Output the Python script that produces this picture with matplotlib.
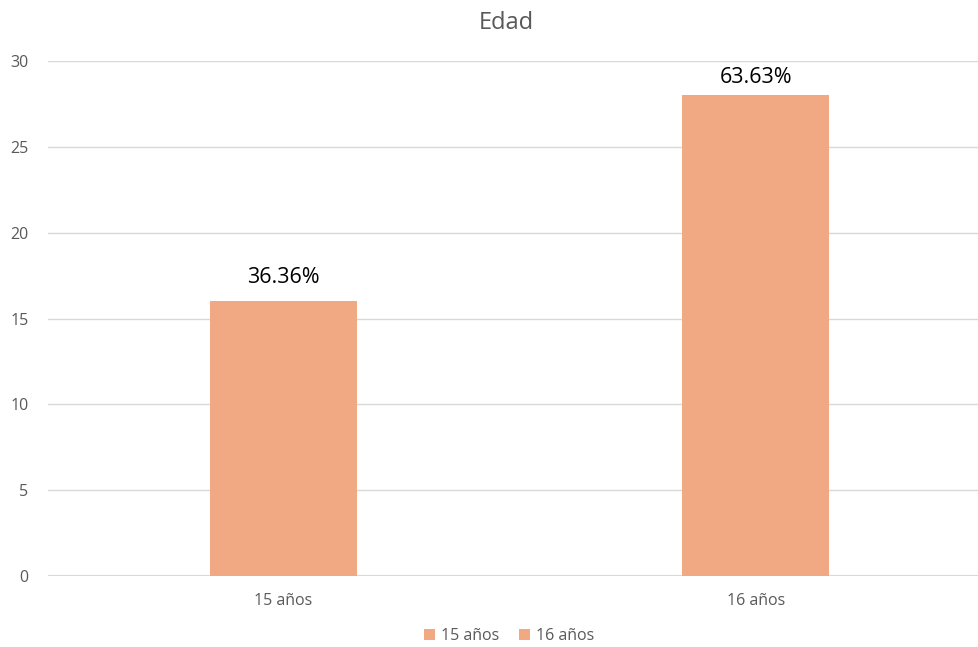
import matplotlib.pyplot as plt

categorias = ['15 años', '16 años']
valores = [16, 28]
etiquetas = ['36.36%', '63.63%']
color = '#F1A983'

plt.rcParams['font.family'] = ['Open Sans', 'DejaVu Sans']

fig = plt.figure(figsize=(9.79, 6.47), dpi=100)
ax = fig.add_axes([0.049, 0.1097, 0.951, 0.796])

for i, (cat, val, lab) in enumerate(zip(categorias, valores, etiquetas)):
    ax.bar(i, val, width=0.311, color=color, label=cat, zorder=3)
    # Excel deja la etiqueta dentro del área del gráfico
    ax.text(i, min(val + 0.8, 28.4), lab, ha='center', va='bottom', fontsize=15.5, color='black')

ax.set_xlim(-0.498, 1.472)
ax.set_ylim(0, 30)
ax.set_yticks(range(0, 31, 5))
ax.set_xticks(range(len(categorias)))
ax.set_xticklabels(categorias)
ax.grid(axis='y', color='#D9D9D9', linewidth=1, zorder=0)
ax.axhline(0, color='#D9D9D9', linewidth=1.5, zorder=1)
for s in ax.spines.values():
    s.set_visible(False)
ax.tick_params(length=0, labelsize=11.5, colors='#595959')
ax.tick_params(axis='x', pad=12)
ax.tick_params(axis='y', pad=14)

fig.text(0.517, 0.965, 'Edad', ha='center', va='center', fontsize=17, color='#595959')
fig.legend(loc='lower center', bbox_to_anchor=(0.52, -0.018), ncol=2, frameon=False,
           fontsize=11.5, handlelength=0.7, handleheight=0.7, handletextpad=0.4,
           columnspacing=1.2, labelcolor='#595959')

plt.savefig('out.png')
